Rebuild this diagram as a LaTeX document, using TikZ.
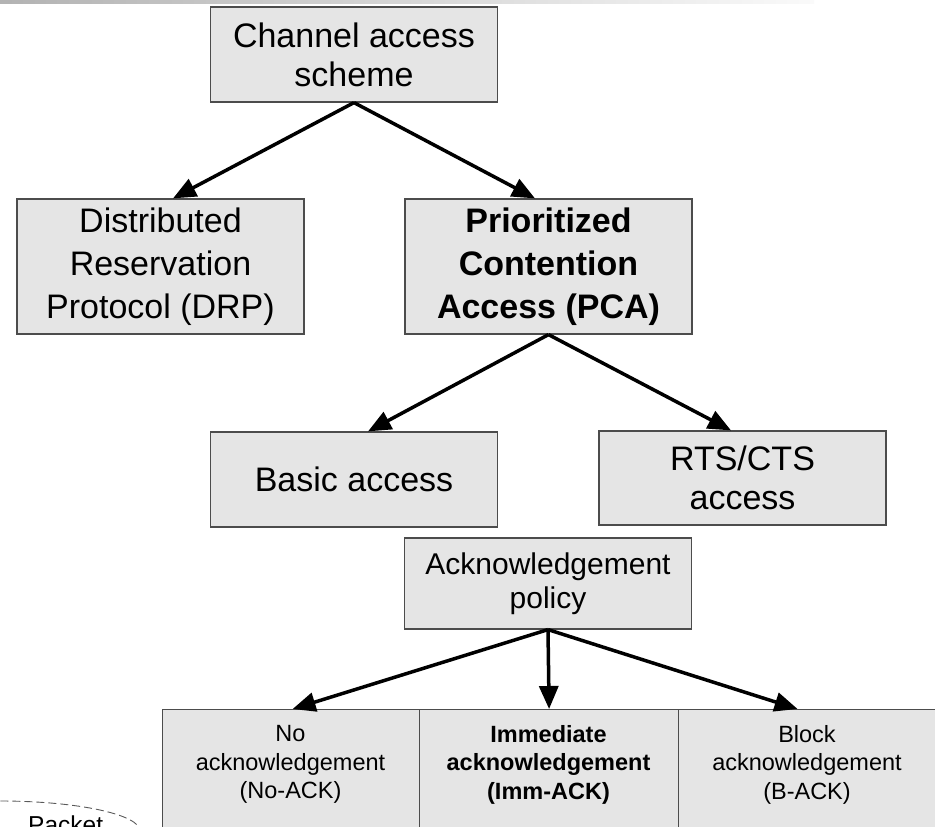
\documentclass[tikz,border=0pt]{standalone}
\usepackage{fontspec}
\setmainfont{Liberation Sans}
\usetikzlibrary{arrows.meta}
\begin{document}
\begin{tikzpicture}[x=1pt,y=-1pt,
  box/.style={draw=black!70, line width=1.2pt, fill=black!10, inner sep=0pt, align=center},
  bigbox/.style={box, minimum width=287pt, minimum height=95pt, font=\fontsize{34}{39}\selectfont},
  tallbox/.style={bigbox, minimum height=135pt, font=\fontsize{34}{43}\selectfont},
  ackbox/.style={box, minimum width=287pt, minimum height=91pt, font=\fontsize{30}{34}\selectfont},
  lowbox/.style={box, anchor=north west, minimum height=150pt},
  lowtxt/.style={inner sep=0pt, align=center, font=\fontsize{23.5}{28.5}\selectfont},
  arr/.style={line width=3.5pt, -{Triangle[length=23pt,width=19pt]}},
  dashcurve/.style={draw=black!65, line width=0.9pt, dash pattern=on 8pt off 4pt}
]
\useasboundingbox (0,0) rectangle (935,827);
\clip (0,0) rectangle (935,827);

% faint strip along the top edge
\shade[left color=black!30, right color=black!2] (0,0) rectangle (814,3.5);

% scheme tree
\node[bigbox] (chan) at (354,54.5) {Channel access\\scheme};
\node[tallbox] (drp) at (160.5,266.5) {Distributed\\Reservation\\Protocol (DRP)};
\node[tallbox, font=\fontsize{34}{43}\selectfont\bfseries] (pca) at (548.5,266.5) {Prioritized\\Contention\\Access (PCA)};
\node[bigbox] (basic) at (354,479.5) {Basic access};
\node[bigbox, minimum height=94pt] (rts) at (742.5,478) {RTS/CTS\\access};
\node[ackbox] (ack) at (548,583.5) {Acknowledgement\\policy};

% acknowledgement variants (run past the lower edge)
\node[lowbox, minimum width=257pt] (noack) at (162,709) {};
\node[lowbox, minimum width=259pt] (imm) at (419,709) {};
\node[lowbox, minimum width=260pt] (back) at (678,709) {};
\node[lowtxt] (noacktxt) at (290.5,764.5) {No\\acknowledgement\\(No-ACK)};
\node[lowtxt, font=\fontsize{23.5}{28.5}\selectfont\bfseries] (immtxt) at (548.5,764.5) {Immediate\\acknowledgement\\(Imm-ACK)};
\node[lowtxt] (backtxt) at (807,764.5) {Block\\acknowledgement\\(B-ACK)};

% connectors
\draw[arr] (chan.south) -- ([xshift=12.5pt]drp.north);
\draw[arr] (chan.south) -- ([xshift=-13.5pt]pca.north);
\draw[arr] (pca.south) -- ([xshift=14pt]basic.north);
\draw[arr] (pca.south) -- ([xshift=-11.5pt]rts.north);
\draw[arr] (ack.south) -- ([xshift=1.5pt]noack.north);
\draw[arr] (ack.south) -- (imm.north);
\draw[arr] (ack.south) -- ([xshift=-11pt]back.north);

% packet outline in the lower left corner
\draw[dashcurve] (0,831) ellipse [x radius=140, y radius=30];
\node[anchor=base west, inner sep=0pt, font=\fontsize{24.5}{29}\selectfont] (pkt) at (28,833.5) {Packet};
\end{tikzpicture}
\end{document}
